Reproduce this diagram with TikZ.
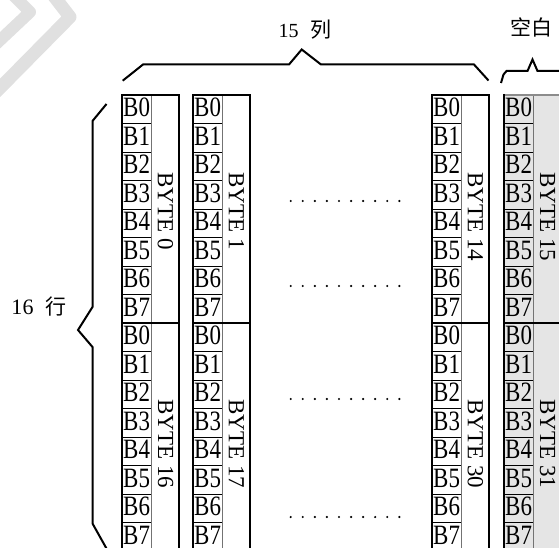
\documentclass[tikz,border=0pt]{standalone}
\usepackage{fontspec}
\setmainfont{Liberation Serif}
\newfontfamily\cjk{Noto Sans CJK SC}
\begin{document}
\begin{tikzpicture}[x=1pt,y=-1pt,
  thickline/.style={line width=2pt},
  rowline/.style={line width=0.8pt, black},
  divline/.style={line width=1pt, black!55},
  bitlabel/.style={anchor=base west, inner sep=0pt, font=\fontsize{28}{28}\selectfont},
  bytelabel/.style={anchor=west, rotate=-90, inner sep=0pt, font=\fontsize{23}{23}\selectfont},
  bracestyle/.style={line width=2pt, line join=miter},
  dotmark/.style={circle, fill=black, inner sep=0pt, minimum size=2.4pt},
  titlelabel/.style={anchor=base, inner sep=0pt, font=\fontsize{20}{20}\selectfont}
]
\useasboundingbox (0,0) rectangle (559,548);
\clip (0,0) rectangle (559,548);

% faded watermark in the corner
\draw[line width=13pt, black!12, line join=round, line cap=round] (46,-14) -- (70,17) -- (-4,92);
\draw[line width=12pt, black!12, line join=round, line cap=round] (4,-14) -- (30,12) -- (-4,44);

% shaded last column (BYTE 15 / BYTE 31)
\fill[black!10] (504,95) rectangle (570,560);

% columns
\foreach \L/\a/\b [count=\c] in {122/0/16, 193/1/17, 432/14/30, 504/15/31} {
  % divider between bit cells and byte area
  \draw[divline] (\L+29,95) -- (\L+29,560);
  % row lines and bit labels
  \foreach \T [count=\k] in {95,323} {
    \foreach \r in {1,...,7} {
      \draw[rowline] (\L,\T+28.5*\r) -- (\L+29,\T+28.5*\r);
    }
    \foreach \r in {0,...,7} {
      \node[bitlabel] (bit\c-\k-\r) at (\L+1,\T+28.5*\r+21.6) {\scalebox{0.82}[1]{B\r}};
    }
  }
  \node[bytelabel] (byte\c-1) at (\L+43.5,172) {BYTE \a};
  \node[bytelabel] (byte\c-2) at (\L+43.5,399) {BYTE \b};
  % block boundary
  \draw[thickline] (\L,323) -- (\L+57,323);
}
% outer borders
\foreach \L in {122,193,432} {
  \draw[thickline] (\L,560) -- (\L,95) -- (\L+57,95) -- (\L+57,560);
}
\draw[line width=2pt, black!45] (504,95) -- (570,95);
\draw[thickline] (504,94) -- (504,560);

% ellipsis dots
\foreach \Y [count=\j] in {201,286,399,517} {
  \foreach \i in {0,...,9} {
    \node[dotmark] (dot\j-\i) at (290.7+12.07*\i,\Y) {};
  }
}

% braces
\coordinate (tbA) at (122.7,80.7);
\coordinate (tbB) at (488.5,80.5);
\draw[bracestyle] (tbA) -- (143,64.5) -- (289,64.5) -- (301.7,49.5) -- (321,64.5) -- (474,64.5) -- (tbB);
\coordinate (rbA) at (501,83);
\coordinate (rbB) at (565,71);
\draw[bracestyle] (rbA) -- (503.5,74.5) -- (506.5,71) -- (527.5,71) -- (532.5,59.5) -- (537.5,71) -- (rbB);
\coordinate (lbA) at (106.5,104);
\coordinate (lbB) at (109,553);
\draw[bracestyle] (lbA) -- (92.5,121) -- (92.5,307) -- (78,330) -- (92.5,347) -- (92.5,523.5) -- (lbB);

% labels
\node[titlelabel] (cols) at (305,37.5) {15\hspace{12pt}{\cjk\fontsize{21}{21}\selectfont 列}};
\node[titlelabel] (blank) at (531.5,35.5) {{\cjk\fontsize{21}{21}\selectfont 空白}};
\node[titlelabel, font=\fontsize{22}{22}\selectfont] (rows) at (39,314) {16\hspace{12pt}{\cjk\fontsize{21}{21}\selectfont 行}};
\end{tikzpicture}
\end{document}
